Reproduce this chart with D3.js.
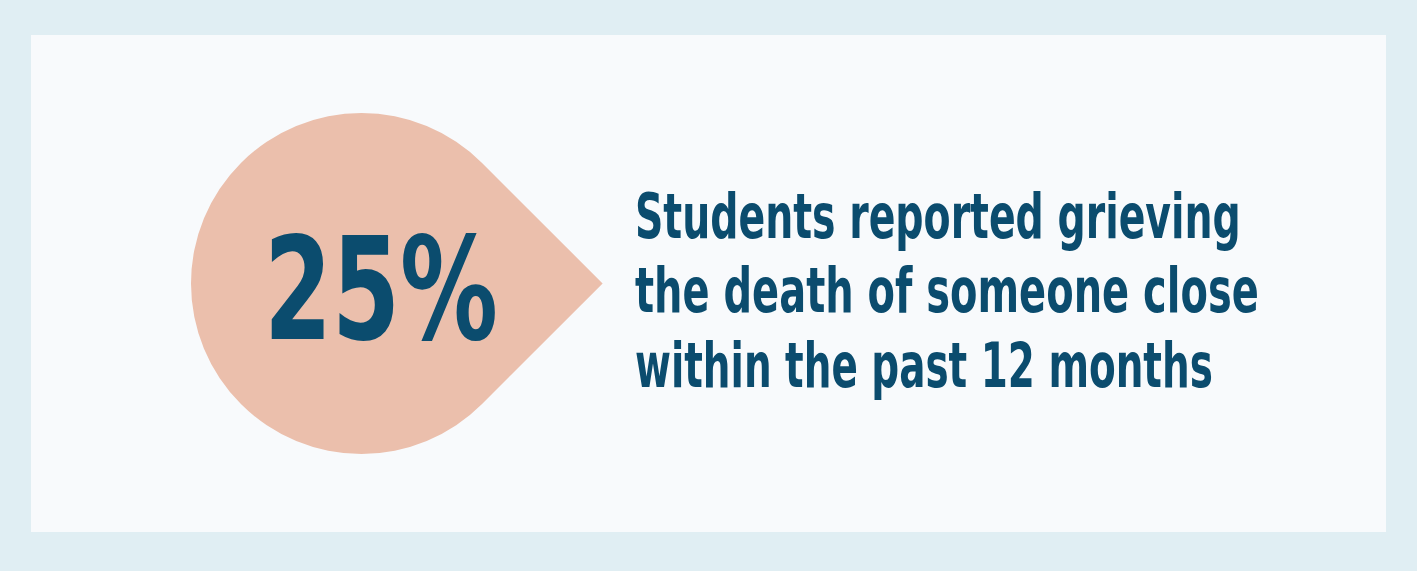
<!DOCTYPE html>
<html>
<head>
<meta charset="utf-8">
<script src="https://cdn.jsdelivr.net/npm/d3@7"></script>
<style>
  html, body { margin: 0; padding: 0; background: #e0eef3; }
  svg { display: block; }
  .cond { font-family: "DejaVu Sans Condensed", "Liberation Sans Narrow", "Liberation Sans", sans-serif; font-weight: bold; font-stretch: condensed; }
</style>
</head>
<body>
<svg id="chart" width="1417" height="571"></svg>
<script>
// Headline statistic and its caption
const statValue = [25];
const statSuffix = ["%"];
const captionLines = [
  "Students reported grieving",
  "the death of someone close",
  "within the past 12 months"
];

const W = 1417, H = 571;
const colors = { frame: "#e0eef3", panel: "#f8fafc", drop: "#ebbfac", ink: "#0b4c6e" };

const svg = d3.select("#chart");

// outer frame + inner panel
svg.append("rect").attr("width", W).attr("height", H).attr("fill", colors.frame);
svg.append("rect")
  .attr("x", 31).attr("y", 35).attr("width", 1355).attr("height", 497)
  .attr("fill", colors.panel);

// teardrop marker: circle with a 90° point facing right
const cx = 361.5, cy = 283.5, r = 170.5;
const k = r / Math.SQRT2;
const drop = d3.path();
drop.moveTo(cx + k, cy - k);
drop.arc(cx, cy, r, -Math.PI / 4, Math.PI / 4, true);
drop.lineTo(cx + r * Math.SQRT2, cy);
drop.closePath();
svg.append("path").attr("d", drop.toString()).attr("fill", colors.drop);

// squeeze a text horizontally so it spans the wanted width from its x
function fitWidth(sel, x, width) {
  sel.each(function (d, i) {
    const w = typeof width === "function" ? width(d, i) : width;
    const natural = this.getComputedTextLength();
    const sx = w / natural;
    d3.select(this)
      .attr("x", 0)
      .attr("transform", `translate(${x},0) scale(${sx},1)`);
  });
}

// big percentage
svg.append("text")
  .attr("class", "cond")
  .attr("y", 339)
  .attr("font-size", 143)
  .attr("fill", colors.ink)
  .text(d3.format("d")(statValue[0]) + statSuffix[0])
  .call(fitWidth, 264, 234);

// caption, one line per row
const lineWidths = [606, 624, 578];
const baseline = d3.scalePoint().domain(d3.range(captionLines.length)).range([238, 387]);
svg.append("g").selectAll("text")
  .data(captionLines)
  .join("text")
  .attr("class", "cond")
  .attr("y", (d, i) => baseline(i))
  .attr("font-size", 62)
  .attr("fill", colors.ink)
  .text(d => d)
  .call(fitWidth, 635, (d, i) => lineWidths[i]);
</script>
</body>
</html>
